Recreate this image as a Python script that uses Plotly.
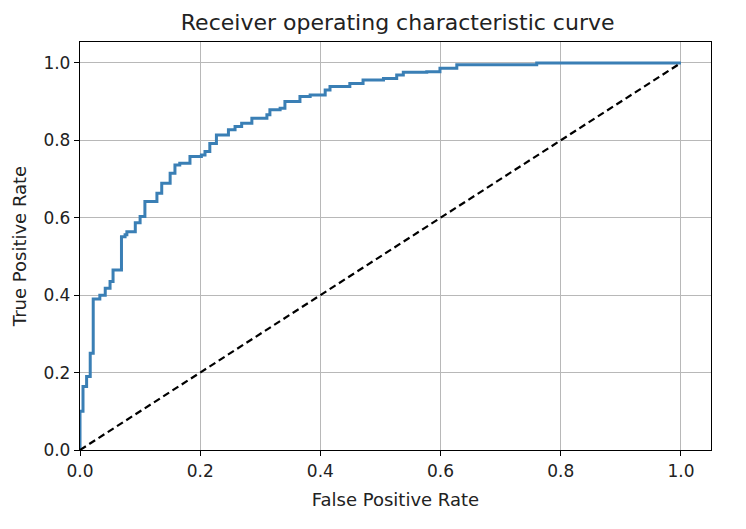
import plotly.graph_objects as go

# ROC curve vertices: at each fpr the curve rises to tpr
fpr = [0.0, 0.0, 0.005, 0.011, 0.017, 0.022, 0.022, 0.033, 0.042, 0.05,
       0.055, 0.069, 0.075, 0.078, 0.092, 0.10, 0.108, 0.128, 0.136, 0.15,
       0.158, 0.166, 0.183, 0.202, 0.208, 0.216, 0.227, 0.247, 0.258, 0.269,
       0.286, 0.311, 0.316, 0.333, 0.341, 0.366, 0.383, 0.408, 0.416, 0.449,
       0.471, 0.505, 0.527, 0.538, 0.577, 0.599, 0.627, 0.76, 1.0]
tpr = [0.0, 0.10, 0.164, 0.19, 0.25, 0.36, 0.39, 0.40, 0.418, 0.435,
       0.465, 0.551, 0.556, 0.564, 0.587, 0.603, 0.642, 0.663, 0.689, 0.715,
       0.736, 0.741, 0.758, 0.762, 0.771, 0.792, 0.814, 0.827, 0.836, 0.844,
       0.857, 0.866, 0.879, 0.883, 0.900, 0.913, 0.917, 0.930, 0.939, 0.947,
       0.956, 0.960, 0.969, 0.976, 0.977, 0.986, 0.995, 1.0, 1.0]

diag_x = [0, 1]
diag_y = [0, 1]

tick_vals = [0.0, 0.2, 0.4, 0.6, 0.8, 1.0]
tick_text = ["0.0", "0.2", "0.4", "0.6", "0.8", "1.0"]

fig = go.Figure()
fig.add_trace(go.Scatter(x=fpr, y=tpr, mode="lines",
                         line=dict(color="#3a7fb5", width=3, shape="hv"),
                         showlegend=False))
fig.add_trace(go.Scatter(x=diag_x, y=diag_y, mode="lines",
                         line=dict(color="black", width=2.2, dash="7px,4px"),
                         showlegend=False))

axis_common = dict(
    showgrid=True, gridcolor="#b8b8b8", gridwidth=1,
    showline=True, linecolor="black", linewidth=1.3, mirror=True,
    ticks="outside", ticklen=5, tickcolor="black", tickwidth=1.2,
    zeroline=False, tickvals=tick_vals, ticktext=tick_text,
    tickfont=dict(family="DejaVu Sans", size=17, color="#222222"),
    title_font=dict(family="DejaVu Sans", size=18, color="#222222"),
)

# page body has an 8px margin, so the figure is sized/offset to compensate
fig.update_layout(
    width=738, height=521,
    paper_bgcolor="white", plot_bgcolor="white",
    margin=dict(l=72, r=35, t=34, b=79),
    title=dict(text="Receiver operating characteristic curve", x=0.528, xanchor="center",
               y=0.973, yanchor="middle",
               font=dict(family="DejaVu Sans", size=22, color="#222222")),
    xaxis=dict(range=[0, 1.05], title=dict(text="False Positive Rate", standoff=13), **axis_common),
    yaxis=dict(range=[0, 1.054], title=dict(text="True Positive Rate", standoff=12), **axis_common),
)

fig.write_html("out.html")
